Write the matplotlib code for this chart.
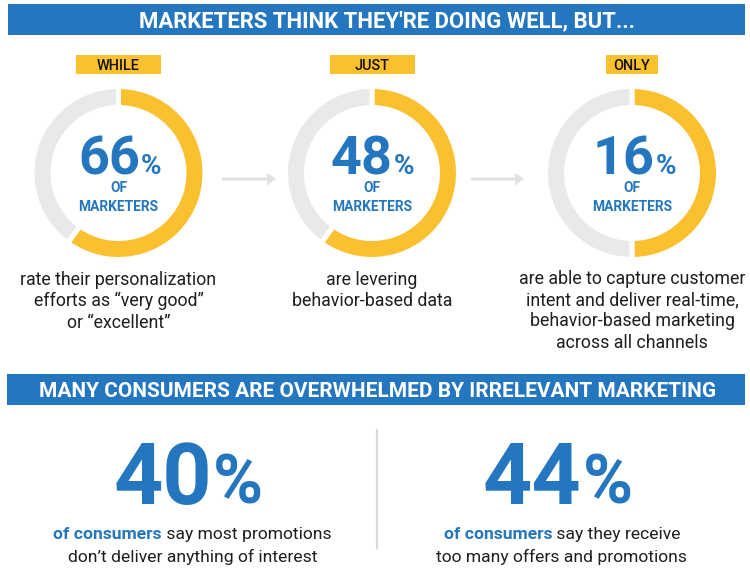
import matplotlib
matplotlib.use('Agg')
import matplotlib.pyplot as plt
from matplotlib.patches import Rectangle

plt.rcParams['font.family'] = ['Roboto', 'DejaVu Sans']

W, H = 750, 576
BLUE = '#2477BF'
YELLOW = '#FBC030'
GRAY = '#E8E9EA'
ARROW = '#E2E3E4'
DARK = '#1E1E1E'

# data
headers = ["MARKETERS THINK THEY'RE DOING WELL, BUT...",
           "MANY CONSUMERS ARE OVERWHELMED BY IRRELEVANT MARKETING"]
tags = ['WHILE', 'JUST', 'ONLY']
percents = ['66', '48', '16']
# the arcs as drawn in the picture, they don't follow the printed numbers
arc_shares = [60, 60, 50]
captions = [['rate their personalization', 'efforts as “very good”', 'or “excellent”'],
            ['are levering', 'behavior-based data'],
            ['are able to capture customer', 'intent and deliver real-time,',
             'behavior-based marketing', 'across all channels']]
big_percents = ['40', '44']
big_bold = ['of consumers', 'of consumers']
big_first = [' say most promotions', ' say they receive']
big_second = ['don’t deliver anything of interest', 'too many offers and promotions']

fig = plt.figure(figsize=(W / 100, H / 100), dpi=100, facecolor='white')
ax = fig.add_axes([0, 0, 1, 1])


def py(y):
    return H - y


def px_font(p):
    return p * 0.72


def box(x0, y0, x1, y1, color):
    ax.add_patch(Rectangle((x0, py(y1)), x1 - x0, y1 - y0, facecolor=color, edgecolor='none', zorder=1))


def label(x, y, s, size, color=DARK, weight='normal', ha='center'):
    return ax.text(x, py(y), s, fontsize=px_font(size), color=color, fontweight=weight,
                   ha=ha, va='baseline', zorder=3)


def width_of(s, size, weight):
    t = label(0, 0, s, size, weight=weight)
    w = t.get_window_extent(fig.canvas.get_renderer()).width
    t.remove()
    return w


# donuts go first since pie resets the limits
donut_x = [118.5, 372, 632]
for cx, share in zip(donut_x, arc_shares):
    ax.pie([share, 100 - share], colors=[YELLOW, GRAY], startangle=90, counterclock=False,
           center=(cx, py(173)), radius=86.5,
           wedgeprops=dict(width=21, edgecolor='white', linewidth=3.6))

ax.set_xlim(0, W)
ax.set_ylim(0, H)
ax.set_aspect('auto')
ax.axis('off')

# header bands
box(8, 4, 745, 34.5, BLUE)
box(7, 374, 745, 404.5, BLUE)
label(387, 27.5, headers[0], 22.1, 'white', 'bold')
label(377.5, 397, headers[1], 20.9, 'white', 'bold')

# tags
tag_x = [(76, 161), (330, 415), (606, 658)]
for (x0, x1), s in zip(tag_x, tags):
    box(x0, 55, x1, 73.5, YELLOW)
    label((x0 + x1) / 2, 70, s, 14.5, '#111111', 'medium')

# numbers inside the donuts
num_edge = [140, 393, 655]
for cx, edge, p in zip(donut_x, num_edge, percents):
    label(edge, 174.5, p, 54, BLUE, 'bold', ha='right')
    label(edge + 1, 174.5, '%', 28, BLUE, 'bold', ha='left')
    label(cx, 192, 'OF', 13.8, BLUE, 'bold')
    label(cx, 211, 'MARKETERS', 13.8, BLUE, 'bold')

# arrows between the donuts
for x0, x1 in [(222, 276), (471, 524)]:
    ax.arrow(x0, py(179), x1 - x0, 0, width=3, head_width=13, head_length=9,
             length_includes_head=True, color=ARROW, linewidth=0, zorder=2)

# captions
for cx, lines, ys in zip(donut_x, captions,
                         [[285, 306.5, 328], [285, 306.5], [284.5, 305.5, 326.5, 347.5]]):
    for s, y in zip(lines, ys):
        label(cx, y, s, 17.8, DARK)

# lower half
ax.plot([377, 377], [py(430), py(548)], color='#D9DADB', linewidth=1.6, zorder=2)

for i, cx in enumerate([192.5, 562]):
    edge = [212, 581.5][i]
    label(edge, 504, big_percents[i], 86, BLUE, 'bold', ha='right')
    label(edge + 1, 504, '%', 68, BLUE, 'bold', ha='left')
    w_bold = width_of(big_bold[i], 17.5, 'bold')
    w_rest = width_of(big_first[i], 17.5, 'normal')
    x0 = cx - (w_bold + w_rest) / 2
    label(x0, 539, big_bold[i], 17.5, BLUE, 'bold', ha='left')
    label(x0 + w_bold, 539, big_first[i], 17.5, DARK, 'normal', ha='left')
    label(cx, 562, big_second[i], 17.5, DARK)

fig.savefig('out.png', dpi=100, facecolor='white')
